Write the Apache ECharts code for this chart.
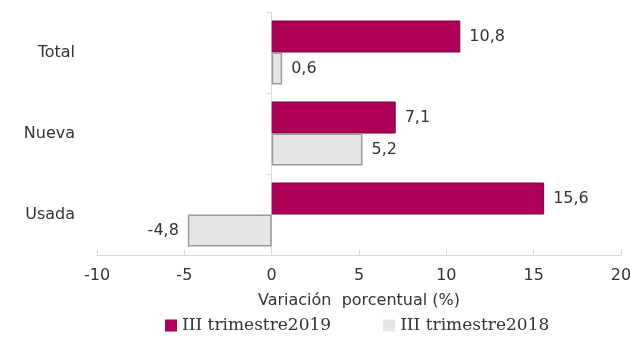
<!DOCTYPE html>
<html><head><meta charset="utf-8">
<script src="https://cdn.jsdelivr.net/npm/echarts@6/dist/echarts.min.js"></script>
<style>html,body{margin:0;padding:0;background:#fff}#c{width:630px;height:341px}</style>
</head><body><div id="c"></div>
<script>
const categories = ['Total', 'Nueva', 'Usada'];
const series2019 = [10.8, 7.1, 15.6];
const series2018 = [0.6, 5.2, -4.8];
const seriesNames = ['III trimestre2019', 'III trimestre2018'];
const xTicks = { min: -10, max: 20, interval: 5 };
const axisTitle = 'Variación  porcentual (%)';

const fmt = p => String(p.value).replace('.', ',');
function toData(arr) {
  return arr.map(v => ({ value: v, label: { position: v < 0 ? 'left' : 'right' } }));
}
const labelStyle = { show: true, formatter: fmt, color: '#333', fontSize: 16, fontFamily: 'DejaVu Sans', distance: 9 };

const chart = echarts.init(document.getElementById('c'));
chart.setOption({
  animation: false,
  grid: { left: 97, right: 9, top: 12, bottom: 86, containLabel: false, outerBoundsMode: 'none' },
  legend: {
    bottom: 2, left: 160, itemGap: 52, itemWidth: 12, itemHeight: 12, itemStyle: { borderWidth: 0 },
    textStyle: { fontFamily: 'DejaVu Serif', fontSize: 17, color: '#333' },
    data: [
      { name: seriesNames[0], icon: 'rect' },
      { name: seriesNames[1], icon: 'rect' }
    ]
  },
  xAxis: {
    type: 'value', min: xTicks.min, max: xTicks.max, interval: xTicks.interval,
    name: axisTitle, nameLocation: 'middle', nameGap: 38,
    nameTextStyle: { fontFamily: 'DejaVu Sans', fontSize: 16, color: '#333' },
    splitLine: { show: false },
    axisLine: { show: true, lineStyle: { color: '#d9d9d9' } },
    axisTick: { show: true, inside: true, length: 5, lineStyle: { color: '#d9d9d9' } },
    axisLabel: { fontFamily: 'DejaVu Sans', fontSize: 16, color: '#333', margin: 13 }
  },
  yAxis: {
    type: 'category', data: categories, inverse: true,
    axisLine: { show: true, onZero: true, lineStyle: { color: '#d9d9d9' } },
    axisTick: { show: true, length: 5, lineStyle: { color: '#d9d9d9' } },
    axisLabel: { fontFamily: 'DejaVu Sans', fontSize: 16, color: '#333', margin: 22 }
  },
  series: [
    {
      name: seriesNames[0], type: 'bar', data: toData(series2019),
      barGap: '0%', barCategoryGap: '21%',
      itemStyle: { color: '#AE0057', borderColor: '#7d003f', borderWidth: 1 },
      label: labelStyle
    },
    {
      name: seriesNames[1], type: 'bar', data: toData(series2018),
      barGap: '0%', barCategoryGap: '21%',
      itemStyle: { color: '#E6E6E6', borderColor: '#9a9a9a', borderWidth: 1.5 },
      label: labelStyle
    }
  ]
});
</script></body></html>
